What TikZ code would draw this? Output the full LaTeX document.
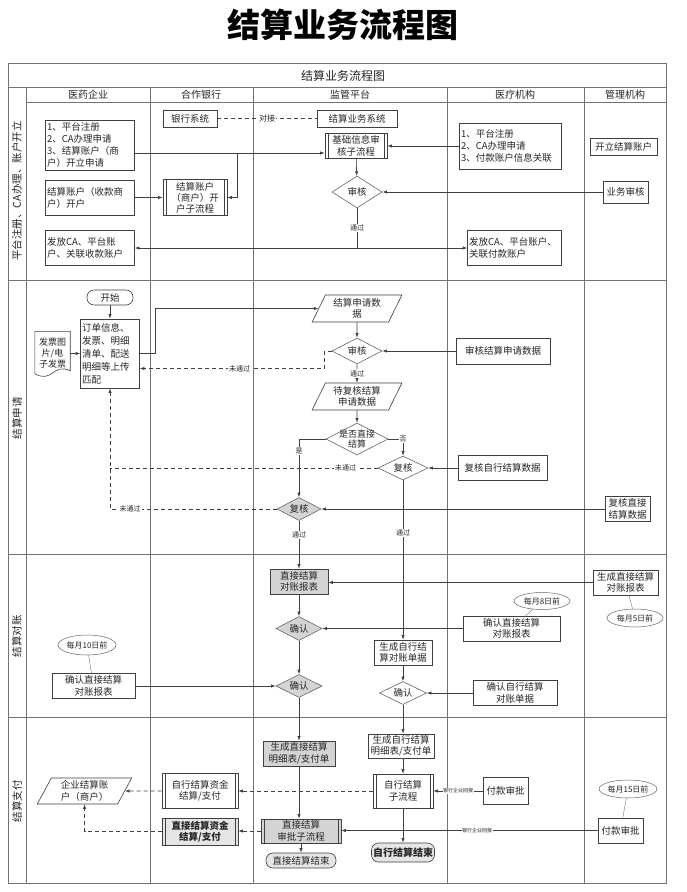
\documentclass[tikz,border=0pt]{standalone}
\usepackage{fontspec}
\setmainfont{Noto Sans CJK SC}
\usetikzlibrary{arrows.meta,shapes.geometric,calc}
\begin{document}
\begin{tikzpicture}[x=1pt,y=-1pt,
  every node/.style={font=\fontsize{9.5}{11.5}\selectfont, text=black!85},
  ln/.style={line width=0.6pt, draw=black!75},
  box/.style={draw=black!75, line width=0.6pt, rectangle, inner sep=1.5pt, align=center},
  lbox/.style={box, align=left, font=\fontsize{9.5}{12}\selectfont},
  sub/.style={box, path picture={\draw[line width=0.5pt, black!75]
      ([xshift=3pt]path picture bounding box.north west) -- ([xshift=3pt]path picture bounding box.south west)
      ([xshift=-3pt]path picture bounding box.north east) -- ([xshift=-3pt]path picture bounding box.south east);}},
  gfill/.style={fill=black!17},
  dia/.style={draw=black!60, line width=0.6pt, diamond, aspect=2, inner sep=0pt, align=center},
  para/.style={draw=black!75, line width=0.6pt, trapezium, trapezium left angle=65, trapezium right angle=115, trapezium stretches=true, inner sep=1pt, align=center},
  term/.style={box, rounded corners=7pt},
  ell/.style={draw=black!60, line width=0.5pt, ellipse, inner sep=0pt, font=\fontsize{8}{9}\selectfont},
  arr/.style={ln, -{Latex[length=4.5pt,width=3.2pt]}},
  darr/.style={arr, dash pattern=on 4pt off 3pt},
  dln/.style={ln, dash pattern=on 4pt off 3pt},
  lbl/.style={fill=white, inner sep=1pt, font=\fontsize{7}{8}\selectfont},
  mini/.style={fill=white, inner sep=0.5pt, font=\fontsize{5}{6}\selectfont},
  lane/.style={line width=0.6pt, draw=black!55},
  thinln/.style={line width=0.4pt, draw=black!55},
]
\fill[white] (0,0) rectangle (687,892);
\useasboundingbox (0,0) rectangle (687,892);

% title
\node[font=\fontsize{33}{36}\selectfont\bfseries, text=black] (title) at (343,25) {结算业务流程图};

% frame and lanes
\draw[lane] (8,63) rectangle (666,883);
\draw[lane] (8,87) -- (666,87);
\draw[lane] (26,102) -- (666,102);
\draw[lane] (26,87) -- (26,883);
\foreach \x in {150,253,447,584} { \draw[lane] (\x,87) -- (\x,883); }
\foreach \y in {280,554,717} { \draw[lane] (8,\y) -- (666,\y); }

\node[font=\fontsize{12}{14}\selectfont] (inner) at (343,76) {结算业务流程图};
\node[font=\fontsize{10}{12}\selectfont] (h1) at (88,94.5) {医药企业};
\node[font=\fontsize{10}{12}\selectfont] (h2) at (201,94.5) {合作银行};
\node[font=\fontsize{10}{12}\selectfont] (h3) at (350,94.5) {监管平台};
\node[font=\fontsize{10}{12}\selectfont] (h4) at (515,94.5) {医疗机构};
\node[font=\fontsize{10}{12}\selectfont] (h5) at (625,94.5) {管理机构};

\node[rotate=90, font=\fontsize{10.5}{12}\selectfont] (ph1) at (17,191) {平台注册、CA办理、账户开立};
\node[rotate=90, font=\fontsize{10.5}{12}\selectfont] (ph2) at (17,418) {结算申请};
\node[rotate=90, font=\fontsize{10.5}{12}\selectfont] (ph3) at (17,636) {结算对账};
\node[rotate=90, font=\fontsize{10.5}{12}\selectfont] (ph4) at (17,801) {结算支付};

% ---------- row 1
\node[box, minimum width=54pt, minimum height=17pt] (bank) at (190,118.5) {银行系统};
\node[box, minimum width=80pt, minimum height=17pt] (sys) at (357,118.5) {结算业务系统};
\draw[dln] (bank) -- node[lbl, font=\fontsize{8}{9}\selectfont]{对接} (sys);

\node[lbox, text width=86pt, minimum height=50pt] (a1) at (90,145) {1、平台注册\\2、CA办理申请\\3、结算账户（商\\户）开立申请};
\node[sub, minimum width=62pt, minimum height=25pt] (jc) at (356,146) {基础信息审\\核子流程};
\node[lbox, text width=99pt, minimum height=46pt] (m1) at (510.5,146) {1、平台注册\\2、CA办理申请\\3、付款账户信息关联};
\node[box, minimum width=67pt, minimum height=17pt] (kl) at (623.5,146.5) {开立结算账户};
\node[lbox, text width=86pt, minimum height=35pt] (acc) at (90,197.5) {结算账户（收款商\\户）开户};
\node[sub, minimum width=64pt, minimum height=36pt, font=\fontsize{9.5}{11}\selectfont] (accsub) at (195,197.5) {结算账户\\（商户）开\\户子流程};
\node[dia, minimum width=50pt, minimum height=32pt] (sh1) at (357,192) {审核};
\node[box, minimum width=45pt, minimum height=22pt] (ywsh) at (625.5,192) {业务审核};
\node[lbox, text width=86pt, minimum height=35pt] (fa1) at (90,248) {发放CA、平台账\\户、关联收款账户};
\node[lbox, text width=91pt, minimum height=35pt] (fa2) at (514.5,248) {发放CA、平台账户、\\关联付款账户};

\draw[arr] ([yshift=-8pt]a1.east) -- ([yshift=-8pt]a1.east -| jc.west);
\coordinate (b1) at (237,153);
\draw[arr] (b1) |- (accsub.east);
\draw[arr] (acc.east) -- (accsub.west);
\draw[arr] (m1.west) -- (m1.west -| jc.east);
\draw[arr] (jc) -- (sh1);
\draw[arr] (ywsh) -- (sh1);
\coordinate (p1) at (357,248);
\draw[ln] (sh1.south) -- node[lbl]{通过} (p1);
\draw[arr] (p1) -- (fa1.east);
\draw[arr] (p1) -- (fa2.west);

% ---------- row 2
\node[term, minimum width=46pt, minimum height=15pt] (start) at (110,297.5) {开始};
\node[lbox, text width=56pt, minimum height=69pt, font=\fontsize{9.5}{13}\selectfont] (upl) at (110,353.5) {订单信息、\\发票、明细\\清单、配送\\明细等上传\\匹配};
\node[minimum width=35pt, minimum height=44pt, inner sep=0pt, align=center, font=\fontsize{9}{11}\selectfont] (inv) at (52.5,353.5) {发票图\\片/电\\子发票};
\draw[ln] (inv.north west) -- (inv.north east) -- ($(inv.south east)+(0,-5)$)
  .. controls ($(inv.south)+(0,-13)$) and ($(inv.south)+(0,8)$) .. ($(inv.south west)+(0,-2)$) -- cycle;

\node[para, minimum width=90pt, minimum height=27pt] (sqd) at (357,308.5) {结算申请数\\据};
\node[dia, minimum width=50pt, minimum height=26pt] (sh2) at (357,351) {审核};
\node[box, minimum width=94pt, minimum height=26pt] (shjs) at (503,351) {审核结算申请数据};
\node[para, minimum width=90pt, minimum height=27pt] (dfh) at (357,396.5) {待复核结算\\申请数据};
\node[dia, minimum width=62pt, minimum height=32pt, inner sep=-3pt, font=\fontsize{9}{10.5}\selectfont] (zj) at (357,439) {是否直接\\结算};
\node[dia, minimum width=50pt, minimum height=24pt] (fh1) at (403,468) {复核};
\node[box, minimum width=89pt, minimum height=25pt] (fhzx) at (502.5,468) {复核自行结算数据};
\node[dia, gfill, minimum width=44pt, minimum height=23pt] (fh2) at (299,509) {复核};
\node[box, minimum width=45pt, minimum height=25pt] (fhzj) at (627.5,509) {复核直接\\结算数据};

\draw[arr] (start) -- (upl);
\draw[arr] (inv.east) -- (upl.west);
\draw[arr] (upl.east) -- ++(15,0) |- (sqd.west);
\draw[arr] (sqd) -- (sh2);
\draw[arr] (shjs) -- (sh2);
\draw[darr] (sh2.west) -- ++(-7,0) |- node[lbl, pos=0.73]{未通过} ([yshift=-15pt]upl.east);
\draw[arr] (sh2) -- node[lbl]{通过} (dfh);
\draw[arr] (dfh) -- (zj);
\draw[arr] (zj.east) -| node[lbl, pos=0.5]{否} (fh1.north);
\draw[arr] (zj.west) -| node[lbl, pos=0.6]{是} (fh2.north);
\draw[arr] (fhzx) -- (fh1);
\draw[arr] (fhzj) -- (fh2);
\draw[dln] (fh1.west) -- node[lbl, pos=0.12]{未通过} (fh1.west -| upl.south);
\draw[darr] (fh2.west) -- node[lbl, pos=0.88]{未通过} (fh2.west -| upl.south) -- (upl.south);

% ---------- row 3
\node[box, gfill, minimum width=58pt, minimum height=25pt] (zjdz) at (299,581.5) {直接结算\\对账报表};
\node[box, minimum width=65pt, minimum height=25pt] (scdz) at (625.5,582.5) {生成直接结算\\对账报表};
\node[ell, minimum width=56pt, minimum height=18pt] (e5) at (635,618) {每月5日前};
\node[dia, gfill, minimum width=46pt, minimum height=24pt] (qr1) at (299,628.5) {确认};
\node[box, minimum width=97pt, minimum height=25pt] (qrzj1) at (511.5,628.5) {确认直接结算\\对账报表};
\node[ell, minimum width=56pt, minimum height=17pt] (e8) at (542,601) {每月8日前};
\node[box, minimum width=58pt, minimum height=25pt] (zxdz) at (403,652.5) {生成自行结\\算对账单据};
\node[dia, minimum width=47pt, minimum height=23pt] (qr3) at (403,693) {确认};
\node[box, minimum width=84pt, minimum height=25pt] (qrzx) at (515,693) {确认自行结算\\对账单据};
\node[dia, gfill, minimum width=46pt, minimum height=23pt] (qr2) at (299,686) {确认};
\node[box, minimum width=83pt, minimum height=25pt] (qrzjE) at (93.5,686) {确认直接结算\\对账报表};
\node[ell, minimum width=58pt, minimum height=20pt] (e10) at (87,645) {每月10日前};

\draw[arr] (fh1) -- node[lbl, pos=0.33]{通过} (zxdz);
\draw[arr] (fh2) -- node[lbl, pos=0.3]{通过} (zjdz);
\draw[arr] (scdz.west) -- (scdz.west -| zjdz.east);
\draw[thinln] (scdz) -- (e5);
\draw[arr] (zjdz) -- (qr1);
\draw[arr] (qrzj1) -- (qr1);
\draw[thinln] (e8) -- (qrzj1);
\draw[arr] (qr1) -- (qr2);
\draw[arr] (qrzjE) -- (qr2);
\draw[thinln] (e10) -- (qrzjE);
\draw[arr] (zxdz) -- (qr3);
\draw[arr] (qrzx) -- (qr3);

% ---------- row 4
\node[box, gfill, minimum width=72pt, minimum height=25pt] (sczj) at (299,753.5) {生成直接结算\\明细表/支付单};
\node[box, minimum width=66pt, minimum height=24pt] (sczx) at (401,746) {生成自行结算\\明细表/支付单};
\node[sub, minimum width=60pt, minimum height=34pt] (zxsub) at (403,791) {自行结算\\子流程};
\node[box, minimum width=45pt, minimum height=27pt] (fksp1) at (505.5,791) {付款审批};
\node[term, fill=black!10, minimum width=63pt, minimum height=19pt, font=\fontsize{10}{12}\selectfont\bfseries] (zxend) at (403,852.5) {自行结算结束};
\node[box, minimum width=45pt, minimum height=25pt] (fksp2) at (620.5,830.5) {付款审批};
\node[ell, minimum width=55pt, minimum height=18pt] (e15) at (628,789) {每月15日前};
\node[sub, gfill, minimum width=80pt, minimum height=24pt] (zjsp) at (301,831) {直接结算\\审批子流程};
\node[term, fill=black!10, minimum width=70pt, minimum height=15pt] (zjend) at (301,860.5) {直接结算结束};
\node[sub, fill=black!10, minimum width=76pt, minimum height=27pt, font=\fontsize{9.5}{11.5}\selectfont\bfseries] (zjzj) at (200,831.5) {直接结算资金\\结算/支付};
\node[sub, minimum width=76pt, minimum height=35pt] (zxzj) at (200,791) {自行结算资金\\结算/支付};
\node[para, minimum width=95pt, minimum height=26pt] (qyacc) at (84.5,791) {企业结算账\\户（商户）};

\draw[arr] (qr2) -- (sczj);
\draw[arr] (qr3.south) -- (qr3.south |- sczx.north);
\draw[arr] (sczx.south -| zxsub.north) -- (zxsub.north);
\draw[arr] (fksp1) -- node[mini]{银行企业回报} (zxsub);
\draw[darr] (zxsub) -- (zxzj);
\draw[darr] (zxzj) -- (qyacc);
\draw[arr] (sczj.south) -- (sczj.south |- zjsp.north);
\draw[arr] (fksp2.west) -- node[mini, pos=0.47]{银行企业回报} (fksp2.west -| zjsp.east);
\draw[arr] (zxsub) -- (zxend);
\draw[arr] (zjsp) -- (zjend);
\draw[darr] (zjsp.west) -- (zjsp.west -| zjzj.east);
\draw[darr] (zjzj.west) -| (qyacc.south);
\draw[thinln] (e15) -- (fksp2);
\end{tikzpicture}
\end{document}
